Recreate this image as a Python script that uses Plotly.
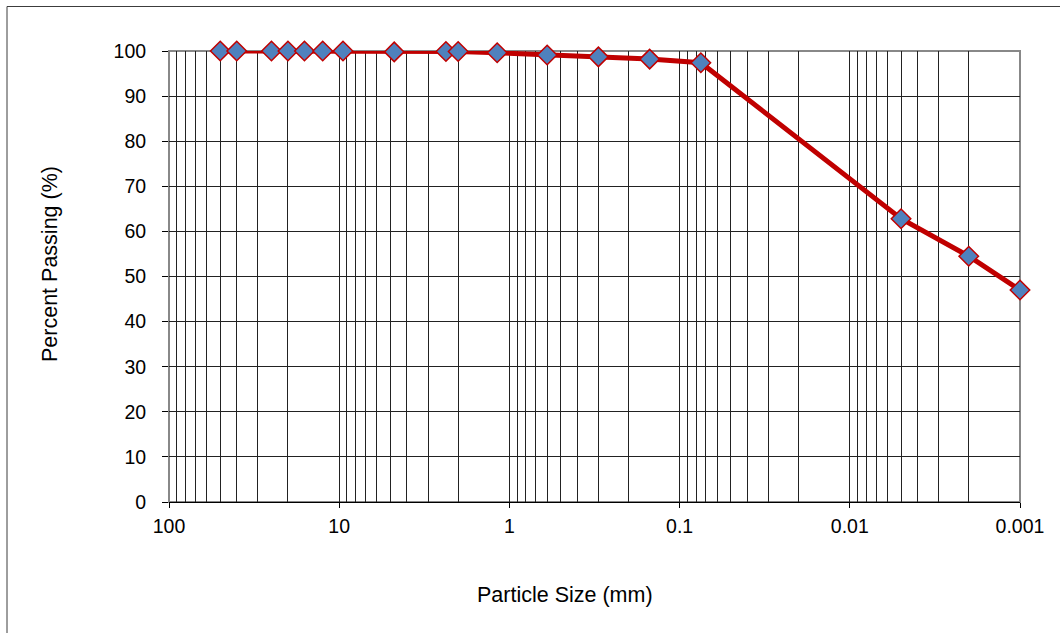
import plotly.graph_objects as go

# Data
particle_size_mm = [50, 40, 25, 20, 16, 12.5, 9.5, 4.75, 2.36, 2.0, 1.18, 0.6, 0.3, 0.15, 0.075, 0.005, 0.002, 0.001]
percent_passing = [100, 100, 100, 100, 100, 100, 100, 99.8, 99.9, 99.9, 99.6, 99.1, 98.7, 98.2, 97.4, 62.8, 54.5, 47.0]

x_tick_vals = [100, 10, 1, 0.1, 0.01, 0.001]
x_tick_text = ["100", "10", "1", "0.1", "0.01", "0.001"]
y_tick_vals = [0, 10, 20, 30, 40, 50, 60, 70, 80, 90, 100]

minor_vals = []
for dec in [10, 1, 0.1, 0.01, 0.001]:
    for m in range(2, 10):
        minor_vals.append(round(dec * m, 6))

FONT = "Liberation Sans, Arial, sans-serif"

fig = go.Figure()
fig.add_trace(go.Scatter(
    x=particle_size_mm, y=percent_passing, mode="lines+markers",
    line=dict(color="#C00000", width=5),
    marker=dict(symbol="diamond", size=15, color="#4F81BD",
                line=dict(color="#C00000", width=1.5)),
    cliponaxis=False, showlegend=False,
))

fig.update_layout(
    width=1060, height=633,
    margin=dict(l=169, r=40, t=51, b=131),
    paper_bgcolor="white", plot_bgcolor="white",
    font=dict(family=FONT, size=19.5, color="#000000"),
    xaxis=dict(
        type="log", range=[2, -3],
        tickvals=x_tick_vals, ticktext=x_tick_text,
        showgrid=True, gridcolor="#222222", gridwidth=1,
        ticks="outside", ticklen=5, tickcolor="#000000", tickwidth=1,
        showline=True, linecolor="#000000", linewidth=1,
        minor=dict(tickvals=minor_vals, showgrid=True, gridcolor="#222222",
                   gridwidth=1, ticklen=0),
        ticklabelstandoff=2,
        zeroline=False,
    ),
    yaxis=dict(
        range=[0, 100], tickvals=y_tick_vals,
        showgrid=True, gridcolor="#222222", gridwidth=1,
        ticks="outside", ticklen=6, tickcolor="#000000", tickwidth=1,
        showline=False, zeroline=False,
        ticklabelstandoff=12,
    ),
    shapes=[
        dict(type="rect", xref="paper", yref="paper", x0=0, x1=1, y0=0, y1=1,
             line=dict(color="#888888", width=2), layer="between"),
        dict(type="rect", xref="paper", yref="paper",
             x0=(7 - 169) / 851, x1=(1120 - 169) / 851,
             y0=(502 - 700) / 451, y1=(502 - 6.5) / 451,
             line=dict(color="#3c3c3c", width=1), layer="below"),
    ],
    annotations=[
        dict(text="Particle Size (mm)", xref="paper", yref="paper",
             x=(565 - 169) / 851, y=(502 - 595) / 451, showarrow=False,
             xanchor="center", yanchor="middle", font=dict(size=21.5)),
        dict(text="Percent Passing (%)", xref="paper", yref="paper",
             x=(50 - 169) / 851, y=(502 - 264) / 451, showarrow=False,
             textangle=-90, xanchor="center", yanchor="middle", font=dict(size=21.5)),
    ],
)

fig.write_html("out.html")
